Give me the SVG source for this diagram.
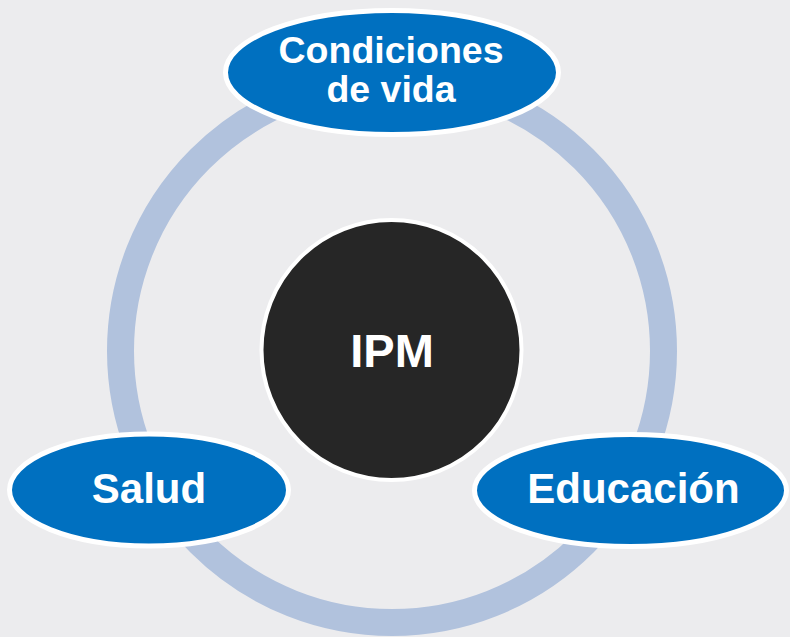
<svg xmlns="http://www.w3.org/2000/svg" width="790" height="637" viewBox="0 0 790 637">
  <style>
    .lbl { font-family: "Liberation Sans", Arial, sans-serif; font-weight: bold; fill: #ffffff; text-anchor: middle; }
    .blue { fill: #0070C0; stroke: #ffffff; stroke-width: 5; }
  </style>
  <rect x="0" y="0" width="790" height="637" fill="#ECECEE"/>
  <g id="connectors">
    <circle cx="392" cy="351" r="271.5" fill="none" stroke="#B1C2DD" stroke-width="27"/>
  </g>
  <g id="node-ipm">
    <circle cx="391.5" cy="350" r="130" fill="#262626" stroke="#ffffff" stroke-width="4"/>
    <text class="lbl" x="392" y="367" font-size="47">IPM</text>
  </g>
  <g id="node-condiciones">
    <ellipse class="blue" cx="392" cy="72.5" rx="166.5" ry="62"/>
    <text class="lbl" x="391" y="63" font-size="37.5">Condiciones</text>
    <text class="lbl" x="391" y="102" font-size="37.5">de vida</text>
  </g>
  <g id="node-salud">
    <ellipse class="blue" cx="149" cy="490" rx="139.5" ry="56"/>
    <text class="lbl" x="149" y="503" font-size="42">Salud</text>
  </g>
  <g id="node-educacion">
    <ellipse class="blue" cx="630.5" cy="490.5" rx="156" ry="56"/>
    <text class="lbl" x="633.5" y="503" font-size="42">Educación</text>
  </g>
</svg>
